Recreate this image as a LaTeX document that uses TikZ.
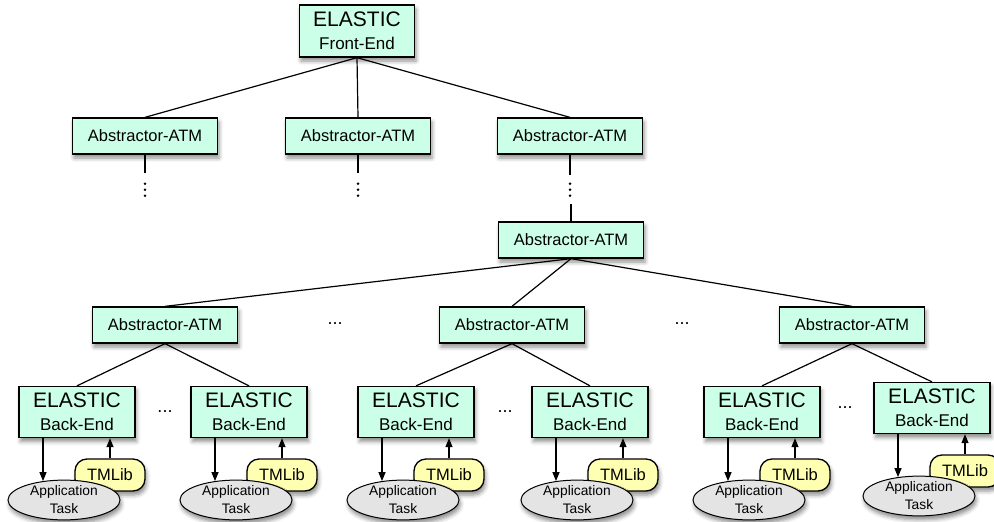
\documentclass[tikz,border=0pt]{standalone}
\usepackage{fontspec}
\setmainfont{Liberation Sans}
\usetikzlibrary{shapes.geometric,shadows.blur,arrows.meta,calc}
\definecolor{mint}{RGB}{204,255,232}
\definecolor{tmyellow}{RGB}{255,255,178}
\definecolor{appgray}{RGB}{228,228,228}
\begin{document}
\begin{tikzpicture}[x=1pt,y=-1pt,
  shad/.style={blur shadow={shadow xshift=1.5pt,shadow yshift=-4pt,shadow blur radius=4pt,shadow opacity=45}},
  atm/.style={draw,line width=1.3pt,fill=mint,minimum width=145pt,minimum height=36pt,inner sep=0pt,
    font=\fontsize{16.5}{18}\selectfont,shad},
  elbox/.style={draw,line width=1.3pt,fill=mint,minimum width=116pt,minimum height=51pt,inner sep=0pt,
    align=center,font=\fontsize{17}{23}\selectfont,shad},
  tml/.style={draw,line width=1.3pt,fill=tmyellow,rounded corners=12pt,minimum width=70pt,minimum height=32pt,
    inner sep=0pt,font=\fontsize{16.5}{18}\selectfont,shad},
  app/.style={draw,line width=1pt,fill=appgray,ellipse,minimum width=112pt,minimum height=39pt,inner sep=0pt,
    align=center,font=\fontsize{13.8}{18}\selectfont,shad},
  conn/.style={line width=1.2pt},
  arr/.style={line width=1.2pt,-{Triangle[length=9pt,width=7pt]}},
  vdot/.style={fill,circle,inner sep=0pt,minimum size=2.8pt},
  hdots/.style={font=\fontsize{18}{18}\selectfont}
]
\useasboundingbox (0,0) rectangle (994,522);

% top
\node[elbox,minimum width=115pt,minimum height=52pt] (fe) at (357,31)
  {{\fontsize{21}{23}\selectfont ELASTIC}\\Front-End};

% level 1
\node[atm] (a1) at (145,136) {Abstractor-ATM};
\node[atm] (a2) at (358,136) {Abstractor-ATM};
\node[atm] (a3) at (570,136) {Abstractor-ATM};

% level 2
\node[atm] (b0) at (571,240) {Abstractor-ATM};

% level 3
\node[atm] (c1) at (165,325) {Abstractor-ATM};
\node[atm] (c2) at (512,325) {Abstractor-ATM};
\node[atm] (c3) at (852,325) {Abstractor-ATM};

\node[hdots] (h1) at (335,324) {...};
\node[hdots] (h2) at (682,324) {...};

% connectors top
\foreach \n in {a1,a2,a3} \draw[conn] (fe.south) -- (\n.north);
\foreach \n in {c1,c2,c3} \draw[conn] (b0.south) -- (\n.north);

% vertical dots
\foreach \n in {a1,a2} {
  \draw[conn] (\n.south) -- ++(0,18);
  \node[vdot] at ($(\n.south)+(0,29)$) {};
  \node[vdot] at ($(\n.south)+(0,35)$) {};
  \node[vdot] at ($(\n.south)+(0,41)$) {};
}
\draw[conn] (a3.south) -- ++(0,20);
\node[vdot] at ($(a3.south)+(0,29)$) {};
\node[vdot] at ($(a3.south)+(0,35)$) {};
\node[vdot] at ($(a3.south)+(0,41)$) {};
\draw[conn] (b0.north) -- ++(0,-17);

% back-ends
\foreach \i/\cx/\cy/\p in {1/77/412/c1,2/249/412/c1,3/416/412/c2,4/590/412/c2,5/762/412/c3,6/932/408/c3} {
  \node[elbox] (d\i) at (\cx,\cy)
    {{\fontsize{21}{23}\selectfont ELASTIC}\\Back-End};
  \draw[conn] (\p.south) -- (d\i.north);
  \node[tml] (t\i) at (\cx+33,\cy+63) {TMLib};
  \node[app] (e\i) at (\cx-13,\cy+88) {Application\\Task};
  \coordinate (p\i) at (\cx-34,\cy);
  \draw[arr] (d\i.south -| p\i) -- ($(e\i.north -| p\i)+(0,1.5)$);
  \draw[arr] (t\i.north) -- (t\i.north |- d\i.south);
}

\node[hdots] (g1) at (165,412) {...};
\node[hdots] (g2) at (505,412) {...};
\node[hdots] (g3) at (845,408) {...};
\end{tikzpicture}
\end{document}
